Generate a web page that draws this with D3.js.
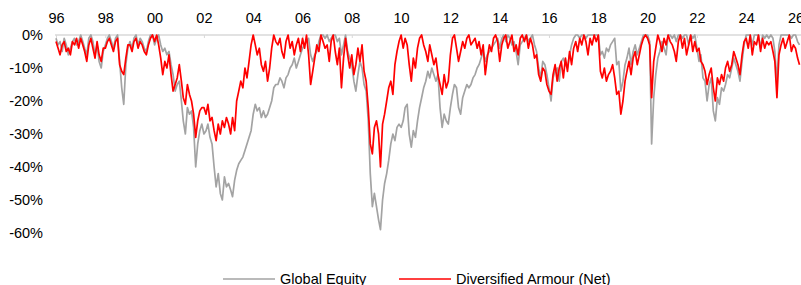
<!DOCTYPE html>
<html>
<head>
<meta charset="utf-8">
<script src="https://cdn.jsdelivr.net/npm/d3@7"></script>
<style>
    body { margin: 0; background: #fff; }
    svg { display: block; font-family: 'Liberation Sans', Arial, sans-serif; }
</style>
</head>
<body>
<div class="js-chart"></div>
<script>
'use strict';

//monthly drawdown in %, one row per year, starting Jan 1996
var startYear = 1996;

var globalEquity = [
    -1, -3, -2, -5, -1, -3, -6, -4, -2, -1, -3, -2,
    0, -2, -4, -6, -1, 0, -2, -6, -3, -8, -10, -5,
    -3, -1, 0, -2, -4, -1, 0, -8, -16, -21, -9, -4,
    -2, -4, -1, 0, -3, -1, -2, -4, -5, -2, 0, 0,
    -3, -1, 0, -3, -5, -4, -6, -5, -9, -12, -17, -15,
    -14, -20, -26, -30, -22, -24, -23, -28, -40, -33, -29, -27,
    -30, -29, -27, -31, -33, -40, -46, -42, -48, -50, -43, -46,
    -45, -47, -49, -44, -41, -39, -38, -37, -35, -33, -31, -29,
    -24, -21, -23, -22, -25, -23, -25, -24, -22, -20, -16, -15,
    -15, -13, -14, -16, -13, -12, -10, -9, -7, -10, -8, -6,
    -4, -3, -2, -1, -6, -8, -6, -5, -2, 0, 0, -1,
    0, -2, -1, 0, 0, -2, -1, -6, -3, 0, -5, -7,
    -9, -14, -17, -12, -8, -10, -15, -17, -26, -42, -52, -48,
    -52, -56, -59, -50, -45, -42, -38, -33, -30, -32, -28, -27,
    -28, -26, -22, -21, -30, -34, -29, -31, -26, -22, -19, -16,
    -14, -11, -13, -10, -12, -14, -12, -22, -28, -24, -26, -27,
    -22, -18, -15, -16, -22, -24, -19, -17, -15, -16, -15, -13,
    -12, -10, -9, -7, -5, -8, -6, -5, -4, -3, -2, -1,
    -4, -1, 0, -2, 0, -1, -3, -2, -5, -9, -3, -2,
    -1, 0, -2, -1, 0, -3, -5, -10, -13, -8, -9, -12,
    -16, -20, -13, -11, -10, -14, -8, -7, -9, -10, -6, -3,
    -1, 0, 0, -1, 0, 0, -1, 0, 0, 0, 0, 0,
    0, -6, -5, -7, -4, -5, -3, -2, -1, -9, -8, -17,
    -14, -9, -7, -4, -9, -5, -3, -6, -4, -2, 0, 0,
    0, -2, -33, -19, -12, -7, -5, -2, -4, -6, 0, 0,
    -1, 0, -2, 0, 0, -1, 0, 0, -3, 0, -1, 0,
    -4, -8, -6, -13, -14, -20, -15, -13, -23, -26, -19, -21,
    -16, -17, -15, -12, -13, -10, -7, -9, -11, -14, -8, -3,
    0, 0, 0, -3, 0, 0, 0, -4, 0, -1, 0, -1,
    0, -1, -5, -14, -3, 0, 0, 0, 0, 0, -1, 0,
    0, -2, -3
];

var diversifiedArmour = [
    -2, -4, -6, -3, -2, -5, -4, -6, -2, -3, -1, -4,
    -1, -3, -5, -8, -3, -1, -4, -7, -2, -6, -8, -4,
    -4, -2, -1, -3, -5, -2, -1, -9, -11, -12, -7, -3,
    -3, -5, -2, -1, -4, -2, -3, -5, -6, -3, -1, 0,
    -2, 0, -3, -7, -12, -8, -10, -6, -12, -17, -15, -13,
    -9, -14, -19, -21, -15, -18, -20, -24, -31, -26, -23, -22,
    -22, -24, -21, -26, -25, -29, -32, -27, -30, -26, -28, -25,
    -27, -30, -25, -29, -20, -17, -14, -16, -10, -13, -8, -3,
    0, -3, -6, -4, -9, -11, -8, -14, -10, -4, 0, -2,
    -3, -1, -5, -7, -2, 0, -4, -2, -6, -3, -1, -5,
    -1, -4, 0, -6, -15, -11, -7, -3, -5, 0, -2, -4,
    -3, -8, -2, 0, -5, -9, -4, -16, -7, -1, -6, -10,
    -6, -12, -9, -4, -8, -3, -11, -14, -22, -33, -36, -28,
    -26, -30, -40, -27, -24, -20, -16, -14, -18, -9, -5, -2,
    0, -4, -1, -3, -9, -14, -7, -10, -4, -1, 0, -3,
    -5, -8, -3, -6, -9, -7, -12, -15, -18, -12, -16, -14,
    -6, -1, 0, -4, -8, -5, -2, -4, -1, 0, -3, -2,
    -1, -4, -2, -6, -3, -12, -7, -3, -5, -1, 0, -2,
    -8, -3, -1, 0, -4, -2, 0, -5, -3, -6, -1, 0,
    -2, 0, -4, -1, -3, -7, -6, -12, -14, -10, -11, -15,
    -17, -18, -12, -9, -14, -10, -8, -13, -7, -11, -5, -9,
    -4, -2, -5, -1, -3, 0, -2, -6, -1, -3, 0, -2,
    0, -11, -13, -10, -14, -12, -11, -9, -13, -18, -17, -24,
    -20, -14, -11, -8, -12, -7, -5, -9, -6, -3, -1, 0,
    -1, -3, -19, -8, -4, 0, -2, -5, -1, -3, 0, -2,
    -3, -5, -8, -2, 0, -4, -1, -6, -3, 0, -5, -2,
    -5, -4, -8, -9, -11, -15, -12, -10, -16, -20, -13, -15,
    -12, -14, -10, -8, -11, -9, -5, -7, -9, -12, -6, -2,
    -1, -4, 0, -6, -2, -3, 0, -5, -1, -4, -2, -3,
    -2, -5, -8, -19, -6, -3, -1, -4, -2, 0, -5, -3,
    -4, -7, -9
];

var yTicks = [0, -10, -20, -30, -40, -50, -60];
var xTickYears = d3.range(1996, 2027, 2);

var series = [
    { name: 'Global Equity', values: globalEquity, color: '#a3a3a3' },
    { name: 'Diversified Armour (Net)', values: diversifiedArmour, color: '#ff0000' }
];

var dim = { w: 801, h: 285 };

var svg = d3.select('.js-chart')
    .append('svg')
    .attr('width', dim.w)
    .attr('height', dim.h);

//scales
var x = d3.scaleTime()
    .domain([new Date(1996, 0, 1), new Date(2026, 0, 1)])
    .range([56, 795.5]);

var y = d3.scaleLinear()
    .domain([0, -60])
    .range([35, 233]);

function monthDate(i) {
    return new Date(startYear, i, 1);
}

//zero line across the top
svg.append('line')
    .attr('x1', 55)
    .attr('x2', dim.w)
    .attr('y1', y(0))
    .attr('y2', y(0))
    .style('stroke', '#d9d9d9')
    .style('stroke-width', 1.5);

//year labels sit above the zero line, ticks hang below it
var xAxis = svg.append('g')
    .attr('transform', 'translate(0,' + y(0) + ')')
    .call(d3.axisTop(x)
        .tickValues(xTickYears.map(function (yr) { return new Date(yr, 0, 1); }))
        .tickFormat(d3.timeFormat('%y'))
        .tickSizeInner(-3)
        .tickSizeOuter(0)
        .tickPadding(12));
xAxis.select('.domain').remove();
xAxis.selectAll('line').style('stroke', '#d9d9d9');
xAxis.selectAll('text')
    .style('font-size', '14.5px')
    .style('fill', '#000');

var yAxis = svg.append('g')
    .attr('transform', 'translate(47,0)')
    .call(d3.axisLeft(y)
        .tickValues(yTicks)
        .tickFormat(function (d) { return d + '%'; })
        .tickSize(0)
        .tickPadding(4));
yAxis.select('.domain').remove();
yAxis.selectAll('text')
    .style('font-size', '14.5px')
    .style('fill', '#000');

//drawdown lines, equity underneath
var line = d3.line()
    .x(function (d, i) { return x(monthDate(i)); })
    .y(function (d) { return y(d); });

svg.selectAll('.js-series')
    .data(series)
    .enter()
    .append('path')
    .attr('class', 'js-series')
    .attr('d', function (d) { return line(d.values); })
    .style('fill', 'none')
    .style('stroke', function (d) { return d.color; })
    .style('stroke-width', 1.7)
    .style('stroke-linejoin', 'round');

//legend at the bottom
var legendX = [223, 399];
var legend = svg.selectAll('.js-legend')
    .data(series)
    .enter()
    .append('g')
    .attr('class', 'js-legend')
    .attr('transform', function (d, i) { return 'translate(' + legendX[i] + ',279)'; });

legend.append('line')
    .attr('x1', 0)
    .attr('x2', 52)
    .style('stroke', function (d) { return d.color; })
    .style('stroke-width', 1.5);

legend.append('text')
    .attr('x', 57)
    .attr('y', 5)
    .text(function (d) { return d.name; })
    .style('font-size', '14.5px')
    .style('fill', '#000');
</script>
</body>
</html>
